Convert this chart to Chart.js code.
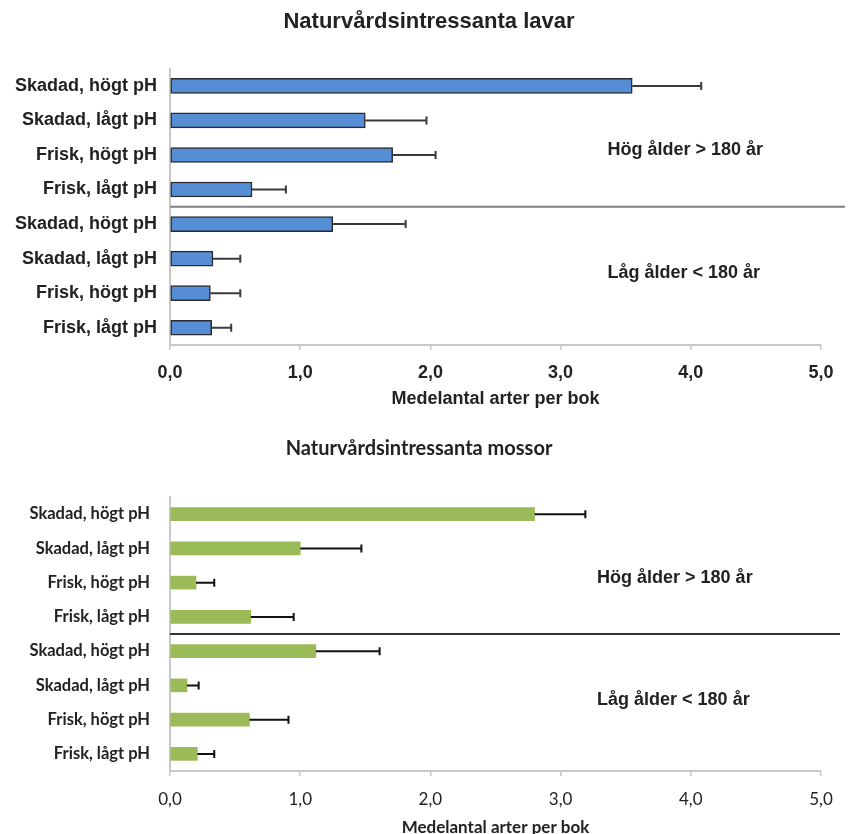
<!DOCTYPE html>
<html>
<head>
<meta charset="utf-8">
<script src="https://cdn.jsdelivr.net/npm/chart.js@4/dist/chart.umd.min.js"></script>
<style>
  html, body { margin: 0; padding: 0; background: #fff; overflow: hidden; width: 852px; height: 834px; }
  .box { position: absolute; left: 0; width: 852px; }
  #topBox { top: 0; height: 420px; }
  #botBox { top: 420px; height: 430px; }
</style>
</head>
<body>
<div class="box" id="topBox"><canvas id="lavarChart"></canvas></div>
<div class="box" id="botBox"><canvas id="mossorChart"></canvas></div>
<script>
// data
const categories = ["Skadad, högt pH", "Skadad, lågt pH", "Frisk, högt pH", "Frisk, lågt pH",
                    "Skadad, högt pH", "Skadad, lågt pH", "Frisk, högt pH", "Frisk, lågt pH"];
const lavarMean  = [3.55, 1.50, 1.71, 0.63, 1.25, 0.33, 0.31, 0.32];
const lavarErr   = [0.53, 0.47, 0.33, 0.26, 0.56, 0.21, 0.23, 0.15];
const mossorMean = [2.80, 1.00, 0.20, 0.62, 1.12, 0.13, 0.61, 0.21];
const mossorErr  = [0.39, 0.47, 0.14, 0.33, 0.49, 0.09, 0.30, 0.13];
const groupLabels = ["Hög ålder > 180 år", "Låg ålder < 180 år"];
const xTitle = "Medelantal arter per bok";

const fmt = v => v.toFixed(1).replace(".", ",");

// error bars, group separator and group labels, drawn through the scales
const decor = {
  id: "decor",
  afterDatasetsDraw(chart, args, o) {
    const { ctx, chartArea, scales: { x, y } } = chart;
    const vals = chart.data.datasets[0].data;
    ctx.save();
    ctx.strokeStyle = o.errColor;
    ctx.lineWidth = o.errWidth;
    o.errors.forEach((e, i) => {
      const py = y.getPixelForValue(i);
      const x0 = x.getPixelForValue(vals[i]);
      const x1 = x.getPixelForValue(vals[i] + e);
      ctx.beginPath();
      ctx.moveTo(x0, py); ctx.lineTo(x1, py);
      ctx.moveTo(x1, py - o.cap / 2); ctx.lineTo(x1, py + o.cap / 2);
      ctx.stroke();
    });
    const sy = (y.getPixelForValue(3) + y.getPixelForValue(4)) / 2;
    ctx.strokeStyle = o.sepColor;
    ctx.lineWidth = 2;
    ctx.beginPath();
    ctx.moveTo(chartArea.left, sy);
    ctx.lineTo(chartArea.right + o.sepExtra, sy);
    ctx.stroke();
    ctx.font = "bold 18px 'Liberation Sans', Arial, sans-serif";
    ctx.fillStyle = "#222";
    ctx.textBaseline = "middle";
    ctx.textAlign = "left";
    ctx.fillText(groupLabels[0], x.getPixelForValue(o.labelX), y.getPixelForValue(1.87));
    ctx.fillText(groupLabels[1], x.getPixelForValue(o.labelX), y.getPixelForValue(5.43));
    ctx.restore();
  }
};

function makeChart(id, cfg) {
  return new Chart(document.getElementById(id), {
    type: "bar",
    data: {
      labels: categories,
      datasets: [{
        data: cfg.values,
        backgroundColor: cfg.fill,
        borderColor: cfg.border,
        borderWidth: cfg.borderWidth,
        borderSkipped: false,
        barThickness: cfg.thickness
      }]
    },
    options: {
      indexAxis: "y",
      responsive: true,
      maintainAspectRatio: false,
      animation: false,
      // paddings only move the centred title; the axes keep the plot at x = 170..821
      layout: { padding: { left: cfg.padLeft, right: cfg.padRight, top: 0, bottom: 0 } },
      plugins: {
        legend: { display: false },
        tooltip: { enabled: false },
        title: {
          display: true,
          text: cfg.title,
          color: "#222",
          font: cfg.titleFont,
          padding: cfg.titlePad
        },
        decor: {
          errors: cfg.errors, errColor: cfg.errColor, errWidth: 2, cap: 8,
          sepColor: cfg.sepColor, sepExtra: cfg.sepExtra, labelX: cfg.labelX
        }
      },
      scales: {
        x: {
          min: 0, max: 5,
          ticks: {
            stepSize: 1, color: "#222", padding: cfg.xTickPad,
            font: cfg.xTickFont, maxRotation: 0,
            callback: v => fmt(v)
          },
          grid: { drawOnChartArea: false, drawTicks: true, tickLength: 5, color: "#c8c8c8", lineWidth: 1.5 },
          border: { color: "#c8c8c8", width: 2 },
          title: { display: true, text: xTitle, color: "#222", font: cfg.xTitleFont, padding: { top: 0, bottom: cfg.xTitlePad } },
          afterFit: s => { s.height = cfg.xHeight; }
        },
        y: {
          ticks: { color: "#222", padding: cfg.yTickPad, font: cfg.yTickFont },
          grid: { display: false, drawTicks: false },
          border: { color: "#c8c8c8", width: 2 },
          afterFit: s => { s.width = 170 - cfg.padLeft; }
        },
        // empty right-hand spacer so the plot ends at x = 821
        spacer: {
          type: "linear", axis: "y", position: "right",
          ticks: { display: false }, grid: { display: false }, border: { display: false },
          afterFit: s => { s.width = 852 - 821 - cfg.padRight; }
        }
      }
    },
    plugins: [decor]
  });
}

const arialB = size => ({ family: "'Liberation Sans', Arial, sans-serif", size: size, weight: "bold", lineHeight: 1.2 });
const latoF = (size, weight) => ({ family: "Lato, 'Open Sans', sans-serif", size: size, weight: weight, lineHeight: 1.2 });

makeChart("lavarChart", {
  title: "Naturvårdsintressanta lavar",
  values: lavarMean, errors: lavarErr, padLeft: 6, padRight: 0,
  fill: "#558ed5", border: "#2b2b2b", borderWidth: 1.5, thickness: 15,
  errColor: "#3a3a3a", sepColor: "#808080", sepExtra: 24, labelX: 3.36,
  titleFont: arialB(22), titlePad: { top: 8.8, bottom: 33.4 },
  xTickFont: arialB(18), xTickPad: 12, xTitleFont: arialB(18), xTitlePad: 10, xHeight: 75,
  yTickFont: arialB(18), yTickPad: 13
});

makeChart("mossorChart", {
  title: "Naturvårdsintressanta mossor",
  values: mossorMean, errors: mossorErr, padLeft: 0, padRight: 14,
  fill: "#9bbb59", border: "#9bbb59", borderWidth: 0, thickness: 13,
  errColor: "#111", sepColor: "#333", sepExtra: 19, labelX: 3.28,
  titleFont: latoF(20, "bold"), titlePad: { top: 16.6, bottom: 36.4 },
  xTickFont: latoF(17, "normal"), xTickPad: 13, xTitleFont: latoF(17, "bold"), xTitlePad: 12, xHeight: 79,
  yTickFont: latoF(16.5, "bold"), yTickPad: 20
});
</script>
</body>
</html>
